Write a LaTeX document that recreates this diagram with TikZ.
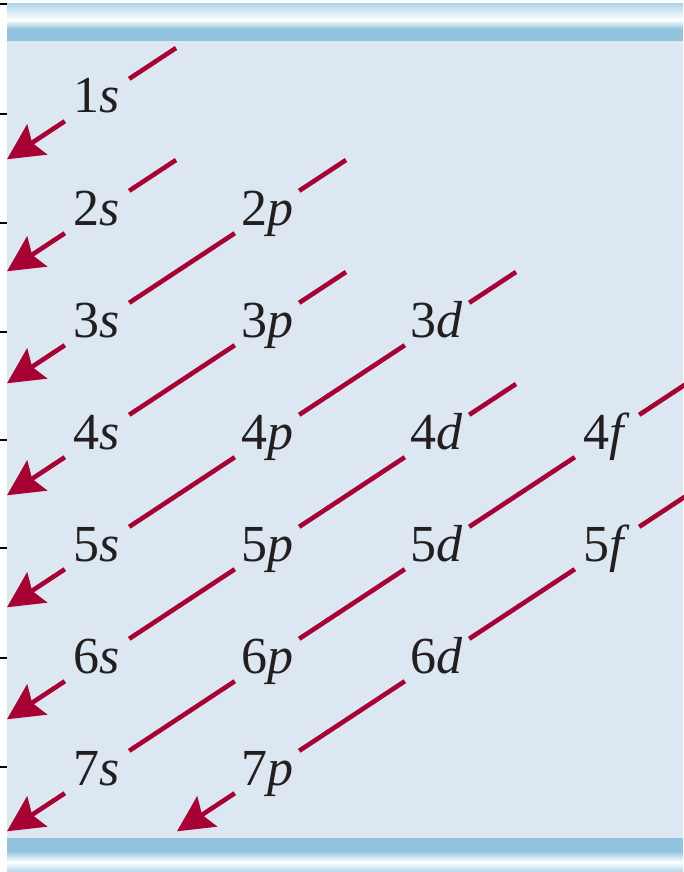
\documentclass[tikz,border=0pt]{standalone}
\usepackage{fontspec}
\setmainfont{Liberation Serif}
\usepackage{tikz}
\usetikzlibrary{arrows.meta}
\definecolor{panelblue}{HTML}{DCE7F1}
\definecolor{barblue}{HTML}{92C3DF}
\definecolor{barlight}{HTML}{B3D6EA}
\definecolor{arrowred}{RGB}{166,0,52}
\definecolor{inkgray}{HTML}{231F20}
\tikzset{
  orb/.style     = {font=\fontsize{52}{60}\selectfont, text=inkgray, inner sep=0pt,
                    minimum width=64pt, minimum height=50pt,
                    text height=36pt, text depth=10pt},
  diag/.style    = {draw=arrowred, line width=4.6pt},
  diagarr/.style = {diag, -{Stealth[length=36pt,width=36pt,inset=6pt]}},
  tick/.style    = {black, line width=2pt}
}

\begin{document}
\begin{tikzpicture}[x=1pt,y=-1pt]
  \useasboundingbox (0,0) rectangle (683,872);
  \fill[panelblue] (7,0) rectangle (683,872);
  \fill[white] (7,0) rectangle (683,4);
  % top and bottom bars
  \shade[top color=barlight, bottom color=white] (7,4) rectangle (683,20);
  \shade[top color=white, bottom color=barblue] (7,20) rectangle (683,29);
  \fill[barblue] (7,29) rectangle (683,41);
  \fill[barblue] (7,838) rectangle (683,851);
  \shade[top color=barblue, bottom color=white] (7,851) rectangle (683,862);
  \shade[top color=white, bottom color=barlight] (7,862) rectangle (683,872);
  \foreach \y in {4,114,223,332,440,548,658,767} { \draw[tick] (0,\y) -- (7,\y); }

  % subshell labels
  \foreach \n in {1,...,7} { \node[orb] (l\n s) at (97,{100+112*(\n-1)}) {\n\textit{s}}; }
  \foreach \n in {2,...,7} { \node[orb] (l\n p) at (267,{100+112*(\n-1)}) {\n\textit{p}}; }
  \foreach \n in {3,...,6} { \node[orb] (l\n d) at (437,{100+112*(\n-1)}) {\n\textit{d}}; }
  \foreach \n in {4,5}     { \node[orb] (l\n f) at (607,{100+112*(\n-1)}) {\n\textit{f}}; }

  % diagonals
  \foreach \a in {1s,2s,2p,3p,3d,4d,4f,5f} {
    \path (l\a) ++(79,-52) coordinate (t\a);
    \draw[diag] (l\a) -- (t\a);
  }
  \foreach \a/\b in {2p/3s,3p/4s,4p/5s,5p/6s,6p/7s,3d/4p,4d/5p,5d/6p,6d/7p,4f/5d,5f/6d} {
    \draw[diag] (l\a) -- (l\b);
  }
  \foreach \a in {1s,2s,3s,4s,5s,6s,7s,7p} {
    \path (l\a) ++(-90,59.3) coordinate (h\a);
    \draw[diagarr] (l\a) -- (h\a);
  }
\end{tikzpicture}
\end{document}
